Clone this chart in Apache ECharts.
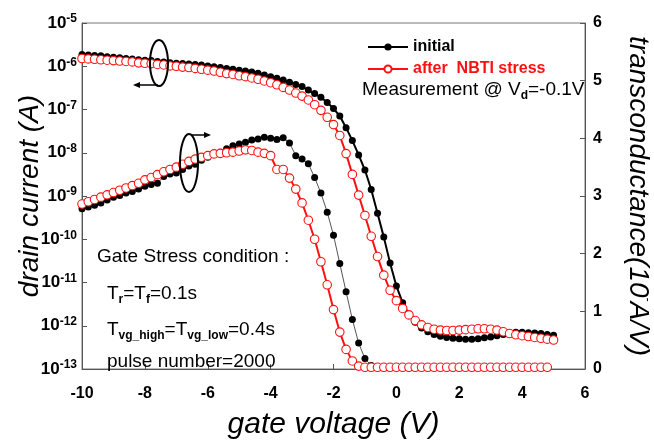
<!DOCTYPE html>
<html>
<head>
<meta charset="utf-8">
<script src="https://cdn.jsdelivr.net/npm/echarts@6/dist/echarts.min.js"></script>
<style>
  html, body { margin: 0; padding: 0; background: #fff; }
  #chart { width: 654px; height: 443px; }
</style>
</head>
<body>
<div id="chart"></div>
<script>
// Gate voltage sweep (V)
const gateVoltage = [-10,-9.8,-9.6,-9.4,-9.2,-9,-8.8,-8.6,-8.4,-8.2,-8,-7.8,-7.6,-7.4,-7.2,-7,-6.8,-6.6,-6.4,-6.2,
  -6,-5.8,-5.6,-5.4,-5.2,-5,-4.8,-4.6,-4.4,-4.2,-4,-3.8,-3.6,-3.4,-3.2,-3,-2.8,-2.6,-2.4,-2.2,
  -2,-1.8,-1.6,-1.4,-1.2,-1,-0.8,-0.6,-0.4,-0.2,0,0.2,0.4,0.6,0.8,1,1.2,1.4,1.6,1.8,
  2,2.2,2.4,2.6,2.8,3,3.2,3.4,3.6,3.8,4,4.2,4.4,4.6,4.8,5];

// Drain current (A), initial device
const drainInitial = [1.86e-6,1.82e-6,1.78e-6,1.74e-6,1.66e-6,1.62e-6,1.58e-6,1.51e-6,1.48e-6,1.41e-6,
  1.38e-6,1.35e-6,1.29e-6,1.26e-6,1.20e-6,1.17e-6,1.15e-6,1.12e-6,1.10e-6,1.07e-6,
  1.02e-6,9.77e-7,9.33e-7,8.91e-7,8.51e-7,8.13e-7,7.76e-7,7.41e-7,6.92e-7,6.31e-7,
  5.75e-7,5.25e-7,4.79e-7,4.27e-7,3.80e-7,3.39e-7,2.82e-7,2.34e-7,1.91e-7,1.45e-7,
  1.05e-7,7.08e-8,3.80e-8,1.91e-8,8.91e-9,3.98e-9,1.41e-9,3.98e-10,1.12e-10,2.82e-11,
  8.32e-12,3.39e-12,1.82e-12,1.20e-12,8.91e-13,7.24e-13,6.31e-13,5.75e-13,5.37e-13,5.13e-13,
  5.01e-13,4.90e-13,4.90e-13,5.01e-13,5.25e-13,5.50e-13,5.89e-13,6.31e-13,6.76e-13,7.08e-13,
  7.08e-13,6.92e-13,6.76e-13,6.61e-13,6.31e-13,6.03e-13];

// Drain current (A), after NBTI stress
const drainStressed = [1.51e-6,1.48e-6,1.45e-6,1.41e-6,1.38e-6,1.35e-6,1.32e-6,1.29e-6,1.26e-6,1.20e-6,
  1.17e-6,1.15e-6,1.10e-6,1.07e-6,1.02e-6,1.00e-6,9.55e-7,9.33e-7,8.91e-7,8.51e-7,
  8.13e-7,7.76e-7,7.24e-7,6.76e-7,6.46e-7,6.03e-7,5.75e-7,5.37e-7,5.01e-7,4.57e-7,
  4.17e-7,3.72e-7,3.24e-7,2.82e-7,2.40e-7,2.04e-7,1.66e-7,1.29e-7,9.55e-8,6.61e-8,
  4.47e-8,2.51e-8,9.55e-9,3.16e-9,1.05e-9,3.55e-10,1.17e-10,3.98e-11,1.48e-11,6.61e-12,
  3.80e-12,2.51e-12,1.78e-12,1.32e-12,1.05e-12,9.12e-13,8.32e-13,7.94e-13,7.76e-13,7.76e-13,
  7.94e-13,8.13e-13,8.32e-13,8.51e-13,8.51e-13,8.32e-13,7.94e-13,7.24e-13,6.61e-13,6.17e-13,
  5.89e-13,5.62e-13,5.37e-13,5.13e-13,4.90e-13,4.68e-13];

// Transconductance (1e-7 A/V), initial device (-10 V .. 4.8 V)
const gmInitial = [2.78,2.81,2.84,2.88,2.93,2.98,3.01,3.05,3.08,3.12,
  3.17,3.20,3.22,3.34,3.38,3.40,3.46,3.52,3.55,3.62,
  3.67,3.72,3.76,3.82,3.87,3.90,3.93,3.97,3.99,4.02,
  4.00,3.98,4.01,3.92,3.70,3.64,3.56,3.32,3.05,2.72,
  2.32,1.83,1.34,0.86,0.45,0.18,0.06,0.03,0.02,0.02,
  0.02,0.02,0.02,0.02,0.02,0.02,0.02,0.02,0.02,0.02,
  0.02,0.02,0.02,0.02,0.02,0.02,0.02,0.02,0.02,0.02,
  0.02,0.02,0.02,0.02,0.02];

// Transconductance (1e-7 A/V), after NBTI stress (-10 V .. 4.8 V)
const gmStressed = [2.86,2.90,2.94,2.98,3.02,3.06,3.10,3.14,3.18,3.22,
  3.28,3.32,3.37,3.42,3.46,3.50,3.55,3.60,3.64,3.67,
  3.70,3.73,3.74,3.75,3.76,3.78,3.80,3.79,3.76,3.74,
  3.70,3.46,3.46,3.31,3.12,2.88,2.58,2.25,1.86,1.46,
  1.03,0.64,0.34,0.14,0.05,0.03,0.03,0.03,0.03,0.03,
  0.03,0.03,0.03,0.03,0.03,0.03,0.03,0.03,0.03,0.03,
  0.03,0.03,0.03,0.03,0.03,0.03,0.03,0.03,0.03,0.03,
  0.03,0.03,0.03,0.03,0.03];

const xTicks = [-10, 6, 2];          // min, max, step
const currentDecades = [1e-13, 1e-5];
const gmTicks = [0, 6, 1];

const FONT = '"Liberation Sans", Arial, Helvetica, sans-serif';
const RED = '#ff1010';
const AXIS = '#555';

function toPairs(values) {
  return values.map((v, i) => [gateVoltage[i], v]);
}

const chart = echarts.init(document.getElementById('chart'), null, { renderer: 'canvas' });

const txt = { fontFamily: FONT, fontSize: 19, color: '#000', lineHeight: 24, verticalAlign: 'middle' };
const sub = { fontFamily: FONT, fontSize: 12, fontWeight: 'bold', color: '#000', verticalAlign: 'bottom' };

const option = {
  animation: false,
  backgroundColor: '#fff',
  textStyle: { fontFamily: FONT },
  grid: {
    left: 82, right: 69, top: 23, bottom: 74,
    outerBoundsMode: 'none', containLabel: false,
    show: true, borderColor: '#777', borderWidth: 1
  },
  legend: {
    orient: 'vertical',
    left: 362,
    top: 34,
    itemWidth: 40,
    itemHeight: 9,
    itemGap: 6,
    textStyle: { fontFamily: FONT, fontWeight: 'bold', fontSize: 16 },
    data: [
      { name: 'initial', textStyle: { color: '#000' } },
      { name: 'after  NBTI stress', textStyle: { color: RED } }
    ]
  },
  xAxis: {
    type: 'value',
    min: xTicks[0], max: xTicks[1], interval: xTicks[2],
    axisLine: { onZero: false, lineStyle: { color: AXIS, width: 1 } },
    axisTick: { inside: true, length: 5, lineStyle: { color: AXIS } },
    splitLine: { show: false },
    axisLabel: { fontFamily: FONT, fontWeight: 'bold', fontSize: 16, color: '#000', margin: 17 },
    name: 'gate voltage (V)',
    nameLocation: 'middle',
    nameGap: 41,
    nameMoveOverlap: false,
    nameTextStyle: { fontFamily: FONT, fontStyle: 'italic', fontSize: 30, color: '#000' }
  },
  yAxis: [
    {
      type: 'log',
      logBase: 10,
      min: currentDecades[0], max: currentDecades[1],
      splitNumber: 8,
      axisLine: { show: true, onZero: false, lineStyle: { color: AXIS } },
      axisTick: { inside: true, length: 5, lineStyle: { color: AXIS } },
      minorTick: { show: false },
      splitLine: { show: false },
      axisLabel: {
        margin: 5,
        formatter: v => '{b|10}{s|' + Math.round(Math.log10(v)) + '}',
        rich: {
          b: { fontFamily: FONT, fontWeight: 'bold', fontSize: 17, color: '#000', lineHeight: 20, verticalAlign: 'middle' },
          s: { fontFamily: FONT, fontWeight: 'bold', fontSize: 12, color: '#000', verticalAlign: 'top' }
        }
      },
      name: 'drain current (A)',
      nameLocation: 'middle',
      nameGap: 38,
      nameMoveOverlap: false,
      nameRotate: 90,
      nameTextStyle: { fontFamily: FONT, fontStyle: 'italic', fontSize: 28, color: '#000' }
    },
    {
      type: 'value',
      position: 'right',
      min: gmTicks[0], max: gmTicks[1], interval: gmTicks[2],
      axisLine: { show: true, onZero: false, lineStyle: { color: AXIS } },
      axisTick: { inside: true, length: 5, lineStyle: { color: AXIS } },
      splitLine: { show: false },
      axisLabel: { fontFamily: FONT, fontWeight: 'bold', fontSize: 16, color: '#000', margin: 8 },
      name: '{n|transconductance(10}{p|-}{n|A/V)}',
      nameLocation: 'middle',
      nameGap: 38,
      nameMoveOverlap: false,
      nameRotate: -90,
      nameTextStyle: {
        rich: {
          n: { fontFamily: FONT, fontStyle: 'italic', fontSize: 28, color: '#000', lineHeight: 30, verticalAlign: 'middle' },
          p: { fontFamily: FONT, fontStyle: 'italic', fontSize: 12, color: '#000', verticalAlign: 'top' }
        }
      }
    }
  ],
  series: [
    {
      name: 'initial', type: 'line', yAxisIndex: 0,
      data: toPairs(drainInitial),
      symbol: 'circle', symbolSize: 7,
      itemStyle: { color: '#000' },
      lineStyle: { color: '#000', width: 2 },
      z: 2
    },
    {
      name: 'initial', type: 'line', yAxisIndex: 1,
      data: toPairs(gmInitial),
      symbol: 'circle', symbolSize: 7,
      itemStyle: { color: '#000' },
      lineStyle: { color: '#555', width: 1 },
      z: 2
    },
    {
      name: 'after  NBTI stress', type: 'line', yAxisIndex: 0,
      data: toPairs(drainStressed),
      symbol: 'circle', symbolSize: 8.5,
      itemStyle: { color: '#fff', borderColor: RED, borderWidth: 1.1 },
      lineStyle: { color: RED, width: 2 },
      z: 3
    },
    {
      name: 'after  NBTI stress', type: 'line', yAxisIndex: 1,
      data: toPairs(gmStressed),
      symbol: 'circle', symbolSize: 8.5,
      itemStyle: { color: '#fff', borderColor: RED, borderWidth: 1.1 },
      lineStyle: { color: RED, width: 2 },
      z: 3
    }
  ],
  graphic: [
    {
      type: 'text', left: 362, top: 80, z: 10,
      style: {
        text: '{a|Measurement @ V}{s|d}{a|=-0.1V}',
        rich: { a: txt, s: sub }
      }
    },
    {
      type: 'text', left: 97, top: 247, z: 10,
      style: { text: '{a|Gate Stress condition :}', rich: { a: txt } }
    },
    {
      type: 'text', left: 107, top: 284, z: 10,
      style: { text: '{a|T}{s|r}{a|=T}{s|f}{a|=0.1s}', rich: { a: txt, s: sub } }
    },
    {
      type: 'text', left: 107, top: 320, z: 10,
      style: { text: '{a|T}{s|vg_high}{a|=T}{s|vg_low}{a|=0.4s}', rich: { a: txt, s: sub } }
    },
    {
      type: 'text', left: 107, top: 352, z: 10,
      style: { text: '{a|pulse number=2000}', rich: { a: txt } }
    },
    // marker pointing the upper curves to the left axis
    {
      type: 'ellipse', z: 10,
      shape: { cx: 159, cy: 63, rx: 9, ry: 23 },
      style: { fill: null, stroke: '#000', lineWidth: 2 }
    },
    {
      type: 'line', z: 10,
      shape: { x1: 158, y1: 85, x2: 138, y2: 85 },
      style: { stroke: '#000', lineWidth: 1.5 }
    },
    {
      type: 'polygon', z: 10,
      shape: { points: [[133, 85], [140, 82], [140, 88]] },
      style: { fill: '#000' }
    },
    // marker pointing the lower curves to the right axis
    {
      type: 'ellipse', z: 10,
      shape: { cx: 189, cy: 163, rx: 9, ry: 29 },
      style: { fill: null, stroke: '#000', lineWidth: 2 }
    },
    {
      type: 'line', z: 10,
      shape: { x1: 192, y1: 135, x2: 205, y2: 135 },
      style: { stroke: '#000', lineWidth: 1.5 }
    },
    {
      type: 'polygon', z: 10,
      shape: { points: [[211, 135], [204, 132], [204, 138]] },
      style: { fill: '#000' }
    }
  ]
};

chart.setOption(option);
</script>
</body>
</html>
